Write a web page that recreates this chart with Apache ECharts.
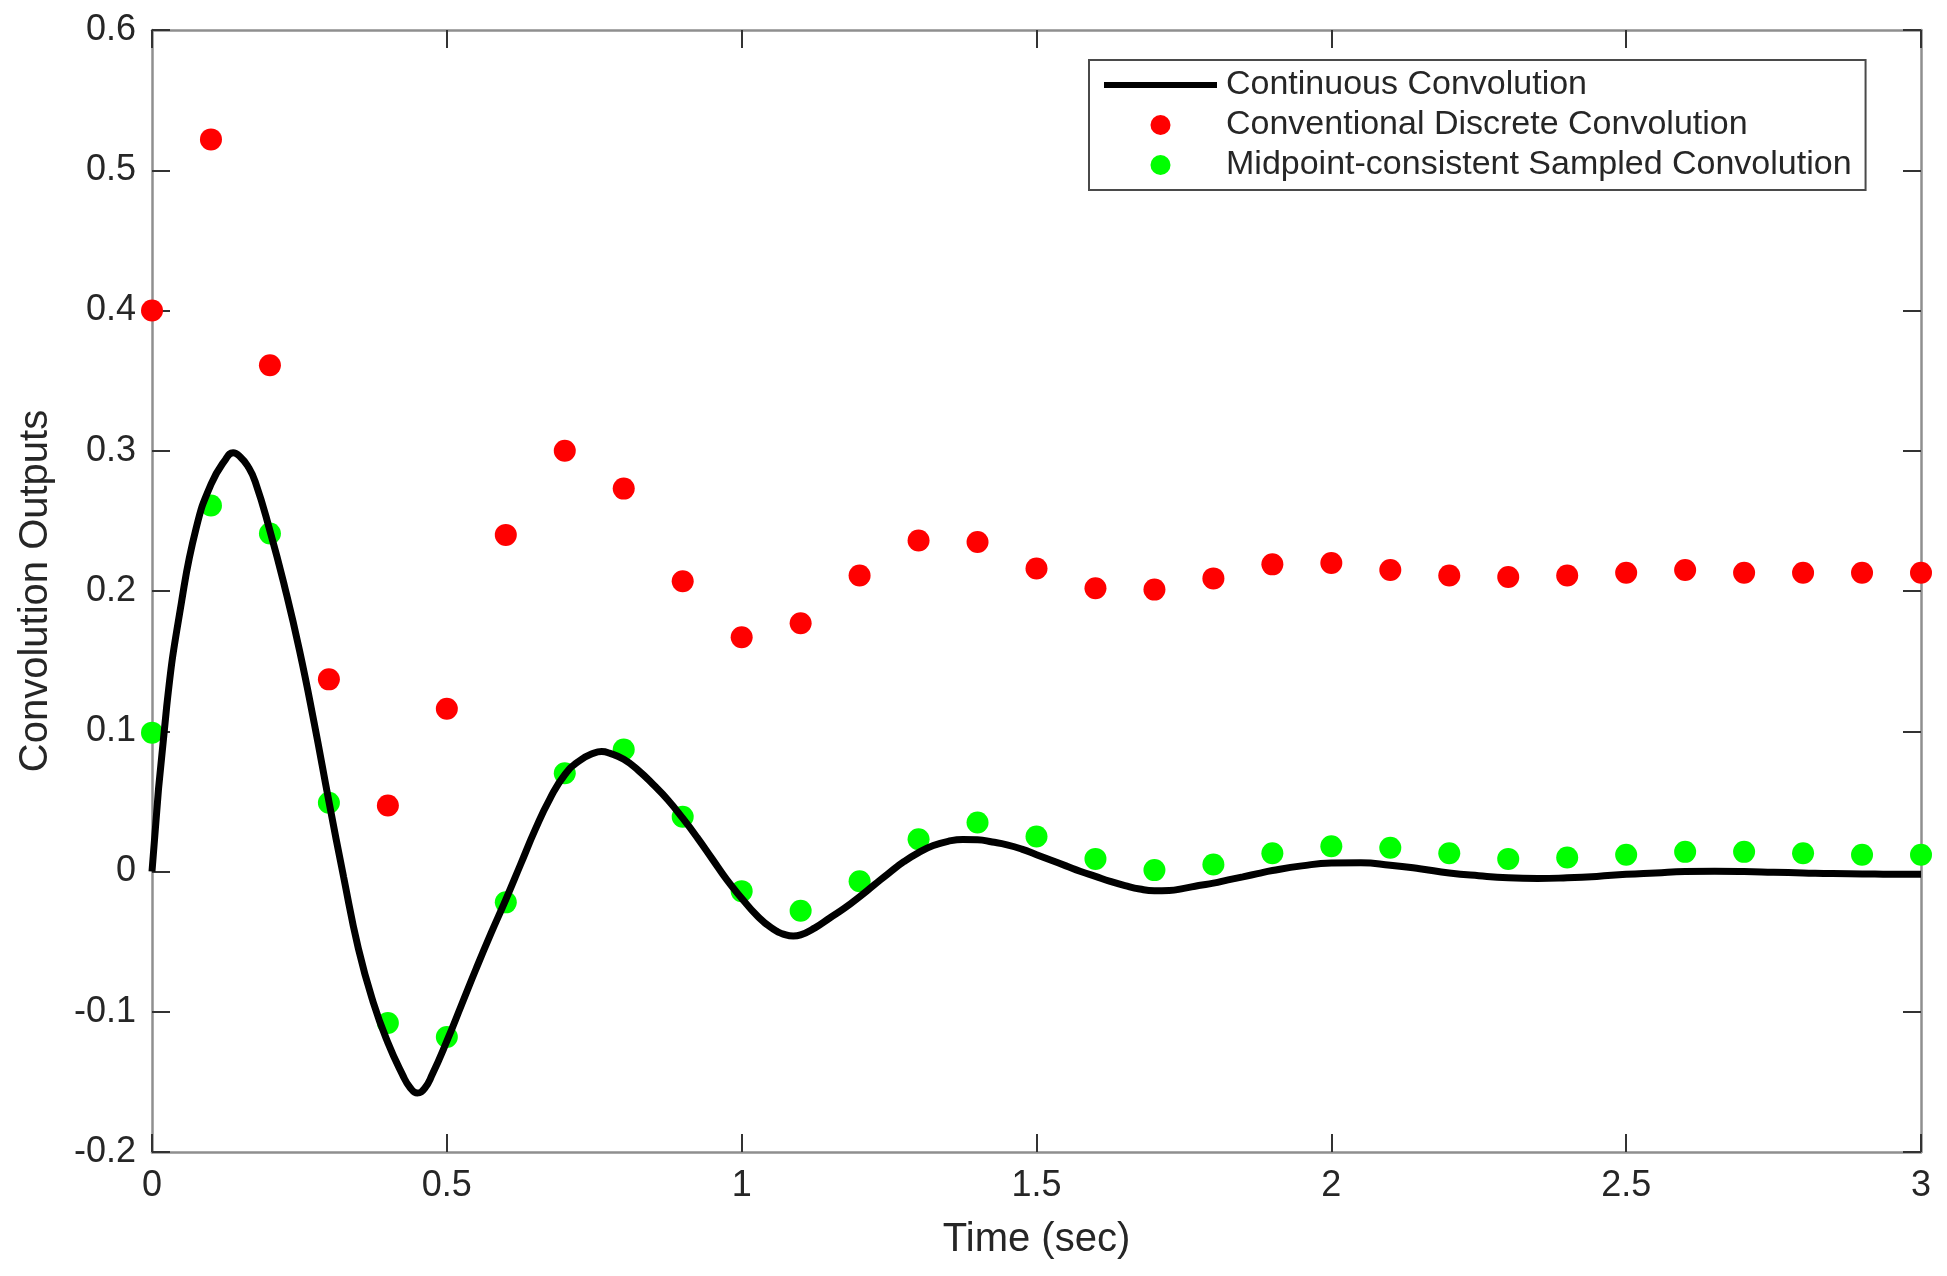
<!DOCTYPE html>
<html>
<head>
<meta charset="utf-8">
<script src="https://cdn.jsdelivr.net/npm/echarts@6/dist/echarts.min.js"></script>
<style>
  html, body { margin: 0; padding: 0; background: #fff; }
  #chart { width: 1947px; height: 1276px; }
</style>
</head>
<body>
<div id="chart"></div>
<script>
// sample instants (sec)
var sampleTimes = [0, 0.1, 0.2, 0.3, 0.4, 0.5, 0.6, 0.7, 0.8, 0.9, 1.0,
  1.1, 1.2, 1.3, 1.4, 1.5, 1.6, 1.7, 1.8, 1.9, 2.0,
  2.1, 2.2, 2.3, 2.4, 2.5, 2.6, 2.7, 2.8, 2.9, 3.0];

// conventional discrete convolution (red dots)
var conventional = [0.400, 0.522, 0.361, 0.137, 0.047, 0.116, 0.240, 0.300, 0.273, 0.207, 0.167,
  0.177, 0.211, 0.236, 0.235, 0.216, 0.202, 0.201, 0.209, 0.219, 0.220,
  0.215, 0.211, 0.210, 0.211, 0.213, 0.215, 0.213, 0.213, 0.213, 0.213];

// midpoint-consistent sampled convolution (green dots)
var midpoint = [0.099, 0.261, 0.241, 0.049, -0.108, -0.118, -0.022, 0.070, 0.087, 0.039, -0.014,
  -0.028, -0.007, 0.023, 0.035, 0.025, 0.009, 0.001, 0.005, 0.013, 0.018,
  0.017, 0.013, 0.009, 0.010, 0.012, 0.014, 0.014, 0.013, 0.012, 0.012];

// continuous convolution (black curve)
var curveTimes = [0, 0.025, 0.05, 0.075, 0.1, 0.125, 0.1375, 0.15, 0.1625, 0.175, 0.2, 0.225, 0.25,
  0.275, 0.3, 0.325, 0.35, 0.375, 0.4, 0.425, 0.4375, 0.45, 0.4625, 0.475, 0.5,
  0.525, 0.55, 0.575, 0.6, 0.625, 0.65, 0.675, 0.7, 0.725, 0.75, 0.7625,
  0.775, 0.8, 0.825, 0.85, 0.875, 0.9, 0.925, 0.95, 0.975, 1.0,
  1.025, 1.05, 1.075, 1.0875, 1.1, 1.125, 1.15, 1.175, 1.2, 1.225, 1.25,
  1.275, 1.3, 1.325, 1.35, 1.375, 1.4, 1.425, 1.45, 1.475, 1.5,
  1.525, 1.55, 1.575, 1.6, 1.625, 1.65, 1.675, 1.7, 1.725, 1.75,
  1.775, 1.8, 1.825, 1.85, 1.875, 1.9, 1.95, 2.0, 2.05, 2.1,
  2.15, 2.2, 2.25, 2.3, 2.35, 2.4, 2.45, 2.5, 2.55, 2.6,
  2.65, 2.7, 2.75, 2.8, 2.85, 2.9, 2.95, 3.0];
var curveValues = [0, 0.118, 0.192, 0.245, 0.276, 0.294, 0.2985, 0.2955, 0.289, 0.278, 0.243, 0.203, 0.158,
  0.106, 0.050, -0.004, -0.055, -0.093, -0.122, -0.145, -0.1540, -0.158, -0.1545, -0.145, -0.121,
  -0.095, -0.069, -0.044, -0.020, 0.005, 0.030, 0.052, 0.069, 0.079, 0.0845, 0.0855,
  0.0845, 0.080, 0.072, 0.062, 0.051, 0.038, 0.024, 0.009, -0.006, -0.019,
  -0.031, -0.040, -0.0452, -0.0460, -0.0452, -0.040, -0.033, -0.026, -0.018, -0.0095, -0.001,
  0.007, 0.0135, 0.0185, 0.0215, 0.0228, 0.0226, 0.021, 0.019, 0.016, 0.012,
  0.008, 0.004, 0.000, -0.0035, -0.007, -0.010, -0.0125, -0.0137, -0.0135, -0.012,
  -0.010, -0.0083, -0.006, -0.0038, -0.0015, 0.0007, 0.004, 0.006, 0.0062, 0.0045,
  0.002, -0.001, -0.003, -0.0045, -0.005, -0.0045, -0.0035, -0.002, -0.001, 0,
  0.0002, 0, -0.0005, -0.001, -0.0015, -0.0017, -0.002, -0.002];

var seriesNames = ['Continuous Convolution', 'Conventional Discrete Convolution', 'Midpoint-consistent Sampled Convolution'];

function pairs(xs, ys) {
  return xs.map(function (x, i) { return [x, ys[i]]; });
}

var font = 'Liberation Sans, Arial, sans-serif';
var textColor = '#262626';
var boxColor = '#8f8f8f';

var chart = echarts.init(document.getElementById('chart'));

var xBase = {
  type: 'value', min: 0, max: 3, interval: 0.5,
  axisLine: { show: true, onZero: false, lineStyle: { color: boxColor, width: 2.5 } },
  axisTick: { show: true, inside: true, length: 18, lineStyle: { color: '#333', width: 2 } },
  splitLine: { show: false }
};
var yBase = {
  type: 'value', min: -0.2, max: 0.6, interval: 0.1,
  axisLine: { show: true, onZero: false, lineStyle: { color: boxColor, width: 2.5 } },
  axisTick: { show: true, inside: true, length: 18, lineStyle: { color: '#333', width: 2 } },
  splitLine: { show: false }
};

chart.setOption({
  animation: false,
  textStyle: { fontFamily: font },
  grid: { left: 152, top: 30, width: 1769, height: 1122 },
  legend: {
    orient: 'vertical',
    left: 1089, top: 60,
    padding: [8, 14, 8, 12],
    itemWidth: 113, itemHeight: 20, itemGap: 6,
    borderColor: '#4a4a4a', borderWidth: 2,
    backgroundColor: '#fff',
    textStyle: { fontSize: 34, color: textColor, fontFamily: font, padding: [0, 0, 0, 4] },
    data: [
      {
        name: seriesNames[0],
        itemStyle: { color: 'rgba(0,0,0,0)', borderColor: 'rgba(0,0,0,0)', borderWidth: 0 },
        lineStyle: { color: '#000', width: 6 }
      },
      seriesNames[1],
      seriesNames[2]
    ]
  },
  xAxis: [
    Object.assign({}, xBase, {
      position: 'bottom',
      name: 'Time (sec)', nameLocation: 'middle', nameGap: 68,
      nameTextStyle: { fontSize: 40, color: textColor, fontFamily: font },
      axisLabel: { fontSize: 36, color: textColor, margin: 16, fontFamily: font }
    }),
    Object.assign({}, xBase, { position: 'top', axisLabel: { show: false } })
  ],
  yAxis: [
    Object.assign({}, yBase, {
      position: 'left',
      name: 'Convolution Outputs', nameLocation: 'middle', nameGap: 96,
      nameTextStyle: { fontSize: 40, color: textColor, fontFamily: font },
      axisLabel: { fontSize: 36, color: textColor, margin: 16, fontFamily: font }
    }),
    Object.assign({}, yBase, { position: 'right', axisLabel: { show: false } })
  ],
  series: [
    {
      name: seriesNames[0], type: 'line',
      data: pairs(curveTimes, curveValues),
      smooth: 0.5, symbol: 'none',
      lineStyle: { color: '#000', width: 7 },
      itemStyle: { color: '#000' }
    },
    {
      name: seriesNames[1], type: 'scatter',
      data: pairs(sampleTimes, conventional),
      symbol: 'circle', symbolSize: 22, clip: false,
      itemStyle: { color: '#ff0000', opacity: 1 }
    },
    {
      name: seriesNames[2], type: 'scatter',
      data: pairs(sampleTimes, midpoint),
      symbol: 'circle', symbolSize: 22, clip: false,
      itemStyle: { color: '#00ff00', opacity: 1 }
    }
  ]
});
</script>
</body>
</html>
